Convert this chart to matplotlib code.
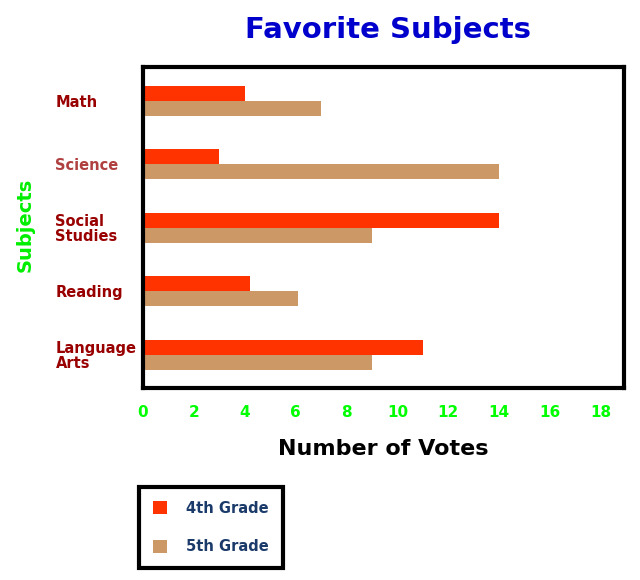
import matplotlib
matplotlib.use("Agg")
import matplotlib.pyplot as plt
import numpy as np

subjects = ["Math", "Science", "Social\nStudies", "Reading", "Language\nArts"]
grade4 = [4, 3, 14, 4.2, 11]
grade5 = [7, 14, 9, 6.1, 9]
series_names = ["4th Grade", "5th Grade"]
xticks = [0, 2, 4, 6, 8, 10, 12, 14, 16, 18]

RED = "#ff3300"
TAN = "#cc9966"

plt.rcParams['font.family'] = ['DejaVu Sans']

fig = plt.figure(figsize=(6.4, 5.8), dpi=100)
# axes box in pixels: x 143..624, y 67..388 (from top)
W, H = 640, 580
ax = fig.add_axes([143 / W, 1 - 388 / H, (624 - 143) / W, (388 - 67) / H])

y = np.arange(len(subjects))
h = 0.236
b4 = ax.barh(y - h / 2, grade4, height=h, color=RED, label=series_names[0])
b5 = ax.barh(y + h / 2, grade5, height=h, color=TAN, label=series_names[1])

ax.set_xlim(0, 18.9)
ax.set_ylim(4.52, -0.535)
ax.set_xticks(xticks)
ax.set_xticklabels([str(t) for t in xticks], color="#00ff00",
                   fontsize=11, fontweight="bold")
ax.set_yticks(y)
ax.set_yticklabels(subjects, fontsize=10.5, fontweight="bold",
                   ha="left", linespacing=1.0)
for lbl in ax.get_yticklabels():
    lbl.set_color("#990000")
ax.get_yticklabels()[1].set_color("#b04040")
ax.tick_params(axis="y", length=0, pad=63)
ax.tick_params(axis="x", length=0, pad=12)

for s in ax.spines.values():
    s.set_linewidth(3)
    s.set_color("black")

ax.set_xlabel("Number of Votes", fontsize=16, fontweight="bold",
              labelpad=14)
fig.text(25 / W, 1 - 225 / H, "Subjects", rotation=90, color="#00ee00",
         fontsize=14, fontweight="bold", ha="center", va="center")
fig.text(388 / W, 1 - 30 / H, "Favorite Subjects", color="#0000cc",
         fontsize=21, fontweight="bold", ha="center", va="center")

leg = fig.legend(handles=[b4, b5], loc="upper left",
                 bbox_to_anchor=(139 / W, 1 - 487 / H), borderaxespad=0,
                 fancybox=False, framealpha=1, edgecolor="black",
                 handlelength=1.0, handleheight=1.0, handletextpad=1.3,
                 labelspacing=1.6, borderpad=0.95,
                 prop={"weight": "bold", "size": 10.5})
leg.get_frame().set_linewidth(3)
for t in leg.get_texts():
    t.set_color("#1a3a6a")

fig.savefig("out.png", dpi=100)
